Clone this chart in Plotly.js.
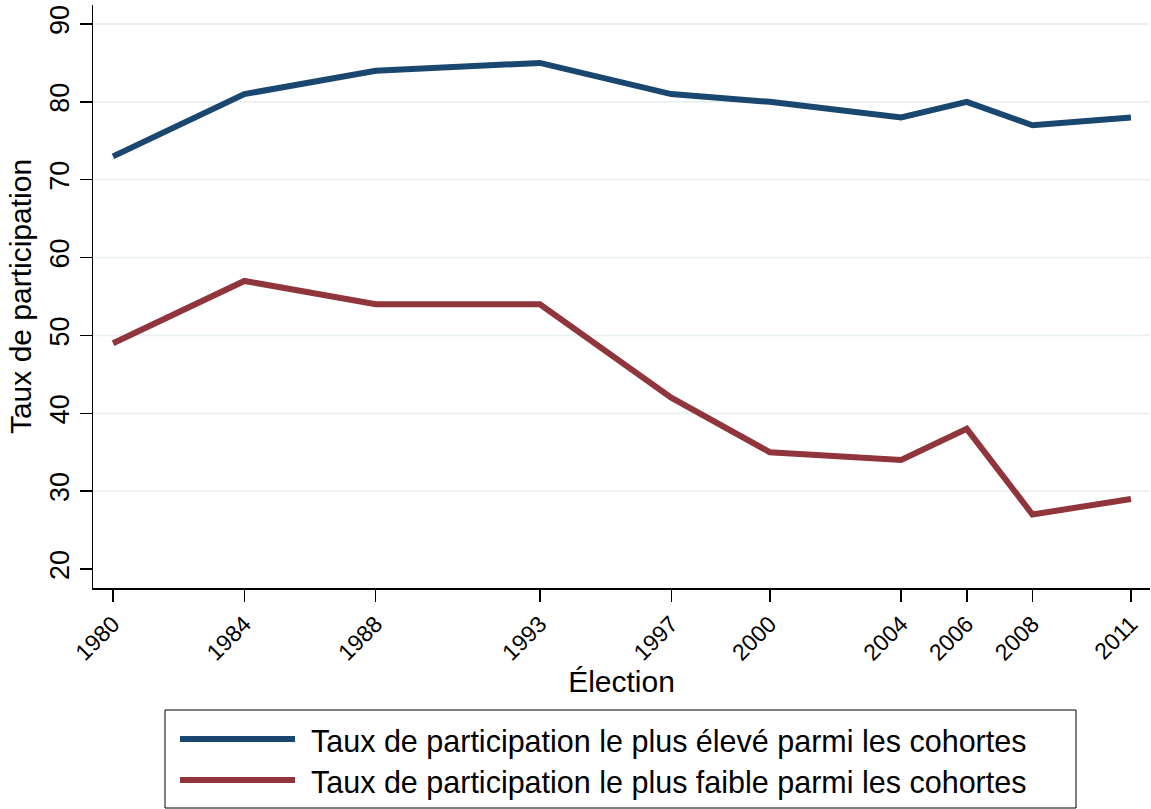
<!DOCTYPE html>
<html>
<head>
<meta charset="utf-8">
<script src="https://cdn.plot.ly/plotly-3.0.1.min.js"></script>
<style>html,body{margin:0;padding:0;background:#fff;}#chart{width:1151px;height:809px;}</style>
</head>
<body>
<div id="chart"></div>
<script>
// ---- data ----
const years = [1980, 1984, 1988, 1993, 1997, 2000, 2004, 2006, 2008, 2011];
const tauxEleve = [73, 81, 84, 85, 81, 80, 78, 80, 77, 78];
const tauxFaible = [49, 57, 54, 54, 42, 35, 34, 38, 27, 29];
const yTicks = [20, 30, 40, 50, 60, 70, 80, 90];
const gridTicks = [30, 40, 50, 60, 70, 80, 90];
const nameEleve = "Taux de participation le plus élevé parmi les cohortes";
const nameFaible = "Taux de participation le plus faible parmi les cohortes";
const xTitle = "Élection";
const yTitle = "Taux de participation";

// ---- layout geometry (pixels) ----
const W = 1151, H = 809;
const M = {l: 93, r: 1, t: 5, b: 221};
const pw = W - M.l - M.r, ph = H - M.t - M.b;
const px = x => (x - M.l) / pw;
const py = y => (H - M.b - y) / ph;

const blue = "#1a476f", red = "#90353b";
const font = "'Liberation Sans', Arial, sans-serif";

const traces = [
  {x: years, y: tauxEleve, name: nameEleve, type: "scatter", mode: "lines",
   line: {color: blue, width: 6}, showlegend: false},
  {x: years, y: tauxFaible, name: nameFaible, type: "scatter", mode: "lines",
   line: {color: red, width: 6}, showlegend: false}
];

const shapes = gridTicks.map(v => ({
  type: "line", xref: "paper", yref: "y", x0: 0, x1: 1, y0: v, y1: v,
  line: {color: "#e8f0f2", width: 1.8}, layer: "below"
}));
// legend box
shapes.push({type: "rect", xref: "paper", yref: "paper",
  x0: px(165), x1: px(1076), y0: py(710), y1: py(808),
  line: {color: "#000", width: 1}, fillcolor: "rgba(0,0,0,0)"});
shapes.push({type: "line", xref: "paper", yref: "paper",
  x0: px(180), x1: px(295), y0: py(739), y1: py(739), line: {color: blue, width: 6}});
shapes.push({type: "line", xref: "paper", yref: "paper",
  x0: px(180), x1: px(295), y0: py(780), y1: py(780), line: {color: red, width: 6}});

const annotations = [
  {text: nameEleve, xref: "paper", yref: "paper", x: px(309), y: py(741),
   xanchor: "left", yanchor: "middle", showarrow: false, font: {family: font, size: 30.5, color: "#000"}},
  {text: nameFaible, xref: "paper", yref: "paper", x: px(309), y: py(782),
   xanchor: "left", yanchor: "middle", showarrow: false, font: {family: font, size: 30.5, color: "#000"}}
];

const layout = {
  width: W, height: H,
  margin: M,
  paper_bgcolor: "#fff", plot_bgcolor: "#fff",
  font: {family: font, color: "#000"},
  showlegend: false,
  xaxis: {
    range: [1979.39, 2011.58],
    tickmode: "array", tickvals: years, ticktext: years.map(String),
    tickangle: -45, tickfont: {size: 23, family: font},
    ticks: "outside", ticklen: 12, tickwidth: 1.5, tickcolor: "#000",
    showline: true, linecolor: "#000", linewidth: 1.5,
    showgrid: false, zeroline: false,
    title: {text: xTitle, font: {size: 30, family: font}, standoff: 0}
  },
  yaxis: {
    range: [17.56, 92.44],
    tickmode: "array", tickvals: yTicks, ticktext: yTicks.map(String),
    tickangle: -90, tickfont: {size: 27, family: font},
    ticks: "outside", ticklen: 12, tickwidth: 1.5, tickcolor: "#000",
    showline: true, linecolor: "#000", linewidth: 1.5,
    showgrid: false, zeroline: false,
    title: {text: yTitle, font: {size: 30, family: font}, standoff: 4}
  },
  shapes: shapes,
  annotations: annotations
};

Plotly.newPlot("chart", traces, layout, {displayModeBar: false, staticPlot: true});
</script>
</body>
</html>
